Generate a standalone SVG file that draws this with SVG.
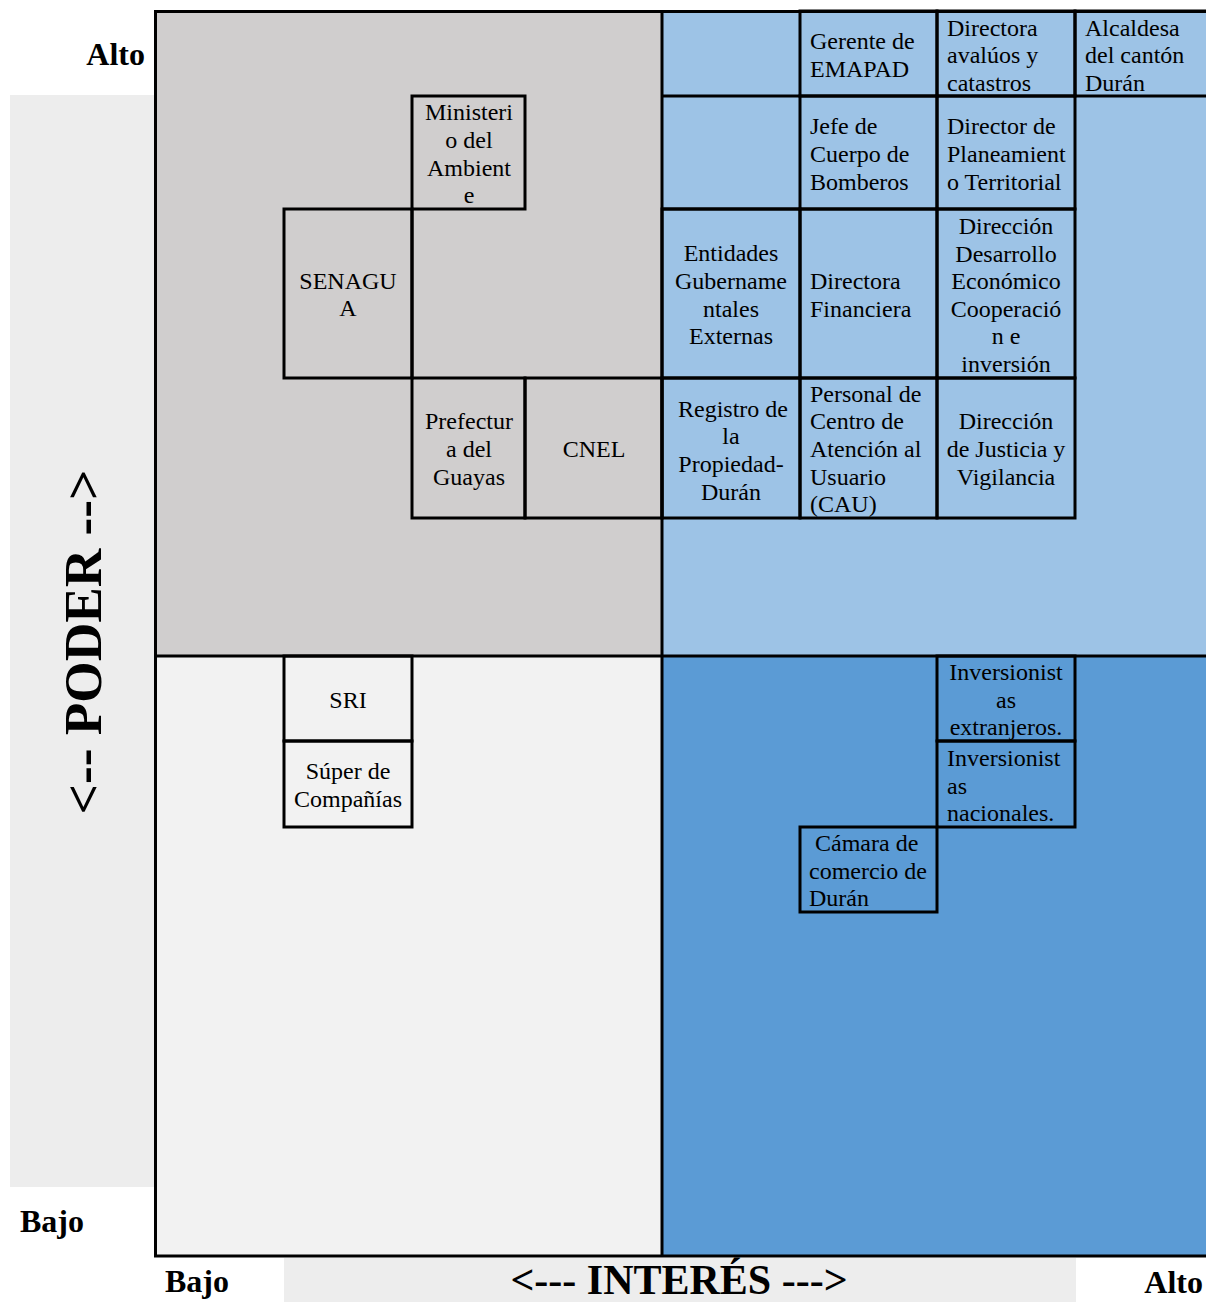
<svg xmlns="http://www.w3.org/2000/svg" width="1206" height="1302" viewBox="0 0 1206 1302">
<style>
.cell{fill:none;stroke:#000;stroke-width:3}
.ln{stroke:#000;stroke-width:3;fill:none}
.t{font-family:"Liberation Serif","Times New Roman",serif;font-size:24px;fill:#000}
.c{text-anchor:middle}
.ax{font-family:"Liberation Serif","Times New Roman",serif;font-weight:bold;fill:#000}
</style>
<rect x="0" y="0" width="1206" height="1302" fill="#fff"/>
<g id="bands">
<rect x="10" y="95" width="145" height="1092" fill="#ededed"/>
<rect x="284" y="1258" width="792" height="44" fill="#ededed"/>
</g>
<g id="quadrants">
<rect x="155" y="11" width="507" height="645" fill="#d0cece"/>
<rect x="662" y="11" width="544" height="645" fill="#9dc3e6"/>
<rect x="155" y="656" width="507" height="600" fill="#f2f2f2"/>
<rect x="662" y="656" width="544" height="600" fill="#5b9bd5"/>
</g>
<g id="connectors">
<path class="ln" d="M662,96 H800 M662,209 H800 M412,209 V378"/>
</g>
<g id="n-ministerio"><rect class="cell" x="412" y="96" width="113" height="113"/><text class="t c"><tspan x="469" y="120">Ministeri</tspan><tspan x="469" y="148">o del</tspan><tspan x="469" y="176">Ambient</tspan><tspan x="469" y="203">e</tspan></text></g>
<g id="n-senagua"><rect class="cell" x="284" y="209" width="128" height="169"/><text class="t c"><tspan x="348" y="289">SENAGU</tspan><tspan x="348" y="316">A</tspan></text></g>
<g id="n-prefectura"><rect class="cell" x="412" y="378" width="113" height="140"/><text class="t c"><tspan x="469" y="429">Prefectur</tspan><tspan x="469" y="457">a del</tspan><tspan x="469" y="485">Guayas</tspan></text></g>
<g id="n-cnel"><rect class="cell" x="525" y="378" width="137" height="140"/><text class="t c" x="594" y="457">CNEL</text></g>
<g id="n-gerente"><rect class="cell" x="800" y="11" width="137" height="85"/><text class="t"><tspan x="810" y="49">Gerente de</tspan><tspan x="810" y="77">EMAPAD</tspan></text></g>
<g id="n-avaluos"><rect class="cell" x="937" y="11" width="138" height="85"/><text class="t"><tspan x="947" y="36">Directora</tspan><tspan x="947" y="63">avalúos y</tspan><tspan x="947" y="91">catastros</tspan></text></g>
<g id="n-alcaldesa"><rect class="cell" x="1075" y="11" width="134" height="85"/><text class="t"><tspan x="1085" y="36">Alcaldesa</tspan><tspan x="1085" y="63">del cantón</tspan><tspan x="1085" y="91">Durán</tspan></text></g>
<g id="n-bomberos"><rect class="cell" x="800" y="96" width="137" height="113"/><text class="t"><tspan x="810" y="134">Jefe de</tspan><tspan x="810" y="162">Cuerpo de</tspan><tspan x="810" y="190">Bomberos</tspan></text></g>
<g id="n-planeamiento"><rect class="cell" x="937" y="96" width="138" height="113"/><text class="t"><tspan x="947" y="134">Director de</tspan><tspan x="947" y="162">Planeamient</tspan><tspan x="947" y="190">o Territorial</tspan></text></g>
<g id="n-entidades"><rect class="cell" x="662" y="209" width="138" height="169"/><text class="t c"><tspan x="731" y="261">Entidades</tspan><tspan x="731" y="289">Gubername</tspan><tspan x="731" y="317">ntales</tspan><tspan x="731" y="344">Externas</tspan></text></g>
<g id="n-financiera"><rect class="cell" x="800" y="209" width="137" height="169"/><text class="t"><tspan x="810" y="289">Directora</tspan><tspan x="810" y="317">Financiera</tspan></text></g>
<g id="n-desarrollo"><rect class="cell" x="937" y="209" width="138" height="169"/><text class="t c"><tspan x="1006" y="234">Dirección</tspan><tspan x="1006" y="262">Desarrollo</tspan><tspan x="1006" y="289">Económico</tspan><tspan x="1006" y="317">Cooperació</tspan><tspan x="1006" y="344">n e</tspan><tspan x="1006" y="372">inversión</tspan></text></g>
<g id="n-registro"><rect class="cell" x="662" y="378" width="138" height="140"/><text class="t c"><tspan x="733" y="417">Registro de</tspan><tspan x="731" y="444">la</tspan><tspan x="731" y="472">Propiedad-</tspan><tspan x="731" y="500">Durán</tspan></text></g>
<g id="n-cau"><rect class="cell" x="800" y="378" width="137" height="140"/><text class="t"><tspan x="810" y="402">Personal de</tspan><tspan x="810" y="429">Centro de</tspan><tspan x="810" y="457">Atención al</tspan><tspan x="810" y="485">Usuario</tspan><tspan x="810" y="512">(CAU)</tspan></text></g>
<g id="n-justicia"><rect class="cell" x="937" y="378" width="138" height="140"/><text class="t c"><tspan x="1006" y="429">Dirección</tspan><tspan x="1006" y="457">de Justicia y</tspan><tspan x="1006" y="485">Vigilancia</tspan></text></g>
<g id="n-sri"><rect class="cell" x="284" y="656" width="128" height="85"/><text class="t c" x="348" y="708">SRI</text></g>
<g id="n-super"><rect class="cell" x="284" y="741" width="128" height="86"/><text class="t c"><tspan x="348" y="779">Súper de</tspan><tspan x="348" y="807">Compañías</tspan></text></g>
<g id="n-inv-ext"><rect class="cell" x="937" y="656" width="138" height="85"/><text class="t c"><tspan x="1006" y="680">Inversionist</tspan><tspan x="1006" y="708">as</tspan><tspan x="1006" y="735">extranjeros.</tspan></text></g>
<g id="n-inv-nac"><rect class="cell" x="937" y="741" width="138" height="86"/><text class="t"><tspan x="947" y="766">Inversionist</tspan><tspan x="947" y="794">as</tspan><tspan x="947" y="821">nacionales.</tspan></text></g>
<g id="n-camara"><rect class="cell" x="800" y="827" width="137" height="85"/><text class="t"><tspan x="815" y="851">Cámara de</tspan><tspan x="809" y="879">comercio de</tspan><tspan x="809" y="906">Durán</tspan></text></g>
<g id="frame">
<path class="ln" d="M155.5,11.5 H1210 M155.5,10 V1257 M154,1256 H1210 M662,11 V1256 M155,656 H1210"/>
</g>
<g id="axis-labels">
<text class="ax" x="145" y="65" font-size="32" text-anchor="end">Alto</text>
<text class="ax" x="20" y="1232" font-size="32">Bajo</text>
<text class="ax" x="165" y="1292" font-size="32">Bajo</text>
<text class="ax" x="1203" y="1293" font-size="32" text-anchor="end">Alto</text>
<text class="ax" x="679" y="1294" font-size="42" text-anchor="middle">&lt;--- INTERÉS ---&gt;</text>
<text class="ax" font-size="53.3" text-anchor="middle" transform="translate(101,642) rotate(-90)">&lt;-- PODER --&gt;</text>
</g>
</svg>
